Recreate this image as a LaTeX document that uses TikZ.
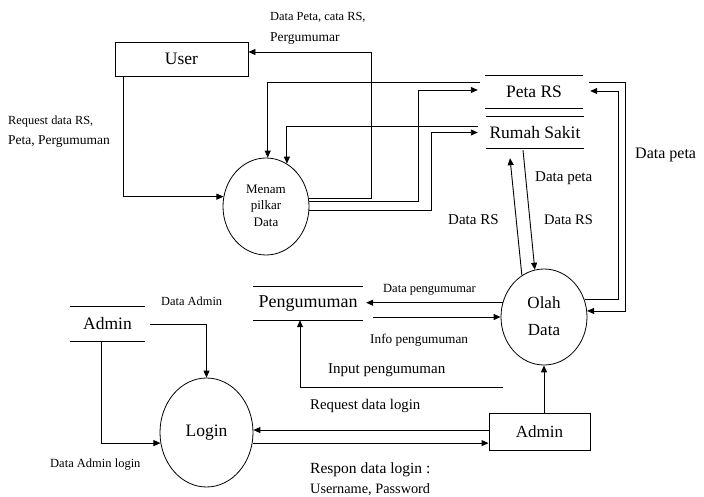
\documentclass[tikz,border=0pt]{standalone}
\usepackage{fontspec}
\setmainfont{Liberation Serif}
\usetikzlibrary{arrows.meta,calc,shapes.geometric}
\newcommand{\lfs}[1]{\fontsize{#1}{#1}\selectfont}
\begin{document}
\begin{tikzpicture}[x=1pt,y=-1pt,
  line/.style={line width=0.9pt},
  arr/.style={line width=0.9pt,-{Triangle[length=7pt,width=6pt]}},
  proc/.style={ellipse,draw,line width=0.8pt,inner sep=0pt},
  ent/.style={rectangle,draw,line width=0.9pt,inner sep=0pt},
  store/.style={inner sep=0pt},
  lbl/.style={anchor=base west,inner sep=0pt}]
\fill[white] (0,0) rectangle (704,497);
\useasboundingbox (0,0) rectangle (704,497);

% entities and processes
\node[ent,minimum width=133pt,minimum height=34pt,font=\lfs{17.5}] (user) at (181.5,59) {\raisebox{-2.5pt}{User}};
\node[proc,minimum width=86pt,minimum height=97pt,font={\fontsize{13}{16.5}\selectfont}] (menam) at (266,206.5)
  {\raisebox{-5pt}{\begin{tabular}{@{}c@{}}Menam\\pilkar\\Data\end{tabular}}};
\node[proc,minimum width=86pt,minimum height=96pt,font={\fontsize{17}{27}\selectfont}] (olah) at (544,317)
  {\raisebox{3pt}{\begin{tabular}{@{}c@{}}Olah\\Data\end{tabular}}};
\node[proc,minimum width=93pt,minimum height=109pt,font=\lfs{17.5}] (login) at (206.5,432.5) {Login};
\node[ent,minimum width=101pt,minimum height=37pt,font=\lfs{17}] (admin) at (539.5,431.5) {Admin};

% data stores
\node[store,minimum width=98pt,minimum height=32pt,font=\lfs{17.5}] (petars) at (534,92) {\raisebox{-5pt}{Peta RS}};
\draw[line] (petars.north west) -- (petars.north east) (petars.south west) -- (petars.south east);
\node[store,minimum width=98pt,minimum height=31pt,font=\lfs{17.5}] (rs) at (535,132.5) {\raisebox{-3.5pt}{Rumah Sakit}};
\draw[line] (rs.north west) -- (rs.north east) (rs.south west) -- (rs.south east);
\node[store,minimum width=110pt,minimum height=33pt,font=\lfs{18}] (peng) at (308,303.5) {\raisebox{-1.5pt}{Pengumuman}};
\draw[line] (peng.north west) -- (peng.north east) (peng.south west) -- (peng.south east);
\node[store,minimum width=74pt,minimum height=34pt,font=\lfs{17.5}] (admstore) at (107.5,324) {\raisebox{-2.5pt}{Admin}};
\draw[line] (admstore.north west) -- (admstore.north east) (admstore.south west) -- (admstore.south east);

% connectors: user / menam
\draw[arr] (menam.11) -| (371,52) -- ([yshift=7pt]user.east);
\draw[arr] ([xshift=9pt]user.south west) |- (menam.167);
\draw[arr] ([shift={(-5,-10)}]petars.west) -| (menam.88);
\draw[arr] ([shift={(-8,-6.5)}]rs.west) -| (menam.64);
\draw[arr] (menam.7) -| (418,90) -- ([shift={(-7,-2)}]petars.west);
\draw[arr] (menam.-5) -| (431,132.5) -- ([xshift=-8pt]rs.west);

% olah / stores
\draw[arr] (olah.23) -| (618,91) -- ([shift={(7,-1)}]petars.east);
\draw[arr] ([shift={(6,-10)}]petars.east) -- (625,82) |- (olah.8);
\draw[arr] (olah.118) -- ([shift={(-25,10)}]rs.south);
\draw[arr] ([shift={(-12,2)}]rs.south) -- (olah.101);
\draw[arr] (olah.161) -- ($(peng.east |- olah.161)+(3,0)$);
\draw[arr] ($(peng.east |- olah.west)+(10,0)$) -- (olah.west);
\coordinate (inpend) at (503,387);
\draw[arr] (inpend) -| ([xshift=-8pt]peng.south);
\draw[arr] (admin.north -| olah.south) -- (olah.south);

% login
\draw[arr] (admin.west |- login.3) -- (login.3);
\draw[arr] (login.-13) -- (login.-13 -| admin.west);
\draw[arr] ([xshift=5pt]admstore.east) -| (login.north);
\draw[arr] ([xshift=-6.5pt]admstore.south) |- (login.193);

% labels
\node[lbl,font=\lfs{12.4}] (l1a) at (270,20.5) {Data Peta, cata RS,};
\node[lbl,font=\lfs{13.5}] (l1b) at (270,41.5) {Pergumumar};
\node[lbl,font=\lfs{12.4}] (l2a) at (8,125) {Request data RS,};
\node[lbl,font=\lfs{13.5}] (l2b) at (8,145) {Peta, Pergumuman};
\node[lbl,font=\lfs{16}] (l3) at (635,159) {Data peta};
\node[lbl,font=\lfs{15}] (l4) at (535,182) {Data peta};
\node[lbl,font=\lfs{15}] (l5) at (448,225) {Data RS};
\node[lbl,font=\lfs{14.5}] (l6) at (544,225) {Data RS};
\node[lbl,font=\lfs{12.5}] (l7) at (383,292) {Data pengumumar};
\node[lbl,font=\lfs{13.3}] (l8) at (370,343) {Info pengumuman};
\node[lbl,font=\lfs{15}] (l9) at (328,373) {Input pengumuman};
\node[lbl,font=\lfs{14.8}] (l10) at (310,409) {Request data login};
\node[lbl,font=\lfs{15.5}] (l11a) at (310,473) {Respon data login :};
\node[lbl,font=\lfs{14.3}] (l11b) at (310,493) {Username, Password};
\node[lbl,font=\lfs{12.4}] (l12) at (161,305) {Data Admin};
\node[lbl,font=\lfs{12.5}] (l13) at (50,467) {Data Admin login};
\end{tikzpicture}
\end{document}
